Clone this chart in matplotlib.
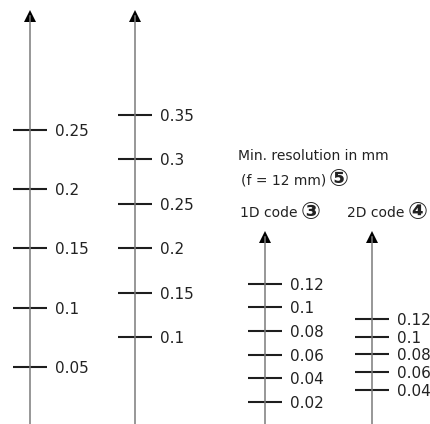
import matplotlib.pyplot as plt

W, H = 431, 424

# tick values and labels of the four scales
scale1_ticks = [0.05, 0.1, 0.15, 0.2, 0.25]
scale1_labels = ['0.05', '0.1', '0.15', '0.2', '0.25']
scale2_ticks = [0.1, 0.15, 0.2, 0.25, 0.3, 0.35]
scale2_labels = ['0.1', '0.15', '0.2', '0.25', '0.3', '0.35']
code1d_ticks = [0.02, 0.04, 0.06, 0.08, 0.1, 0.12]
code1d_labels = ['0.02', '0.04', '0.06', '0.08', '0.1', '0.12']
code2d_ticks = [0.04, 0.06, 0.08, 0.1, 0.12]
code2d_labels = ['0.04', '0.06', '0.08', '0.1', '0.12']

title_line1 = 'Min. resolution in mm'
title_line2 = '(f = 12 mm)'
title_mark = '⑤'
code1d_title, code1d_mark = '1D code', '③'
code2d_title, code2d_mark = '2D code', '④'

spine_col = '#7a7a7a'
tick_col = '#1e1e1e'
text_col = '#222222'

fig = plt.figure(figsize=(W / 100, H / 100), dpi=100)


def px(x, y):
    return x / W, 1 - y / H


def scale_axis(x_px, zero_px, top_px, px_per_unit, ticks, labels):
    # axes whose right spine is the scale line, zero value at zero_px
    left, bottom = px(x_px - 20, zero_px)
    height = (zero_px - top_px) / H
    ax = fig.add_axes([left, bottom, 20 / W, height])
    ax.patch.set_visible(False)
    ax.set_ylim(0, (zero_px - top_px) / px_per_unit)
    for s in ['left', 'top', 'bottom']:
        ax.spines[s].set_visible(False)
    ax.spines['right'].set_color(spine_col)
    ax.spines['right'].set_linewidth(1.1)
    ax.set_xticks([])
    ax.yaxis.tick_right()
    ax.set_yticks(ticks)
    ax.set_yticklabels(labels)
    ax.tick_params(axis='y', direction='inout', length=25, width=1.5,
                   color=tick_col, pad=5.4, labelsize=11, labelcolor=text_col)
    ax.plot(1, 1, marker='^', color='black', markersize=8.5, mew=0,
            transform=ax.transAxes, clip_on=False)
    return ax


scale_axis(30, 426.4, 16, 1187.5, scale1_ticks, scale1_labels)
scale_axis(135, 425.8, 16, 888, scale2_ticks, scale2_labels)
scale_axis(265, 425.2, 237, 1177, code1d_ticks, code1d_labels)
scale_axis(372, 426.1, 237, 895, code2d_ticks, code2d_labels)


def label(x, y, s, mark=None):
    t = fig.text(*px(x, y), s, fontsize=10, color=text_col, va='baseline', ha='left')
    if mark:
        plt.annotate(mark, xy=(1, 0), xycoords=t, xytext=(2, -3),
                     textcoords='offset points', fontsize=17, fontweight='bold',
                     color=text_col, va='bottom', ha='left')
    return t


label(238, 160, title_line1)
label(241, 184, title_line2, title_mark)
label(240, 217, code1d_title, code1d_mark)
label(347, 217, code2d_title, code2d_mark)

fig.savefig('out.png', dpi=100)
